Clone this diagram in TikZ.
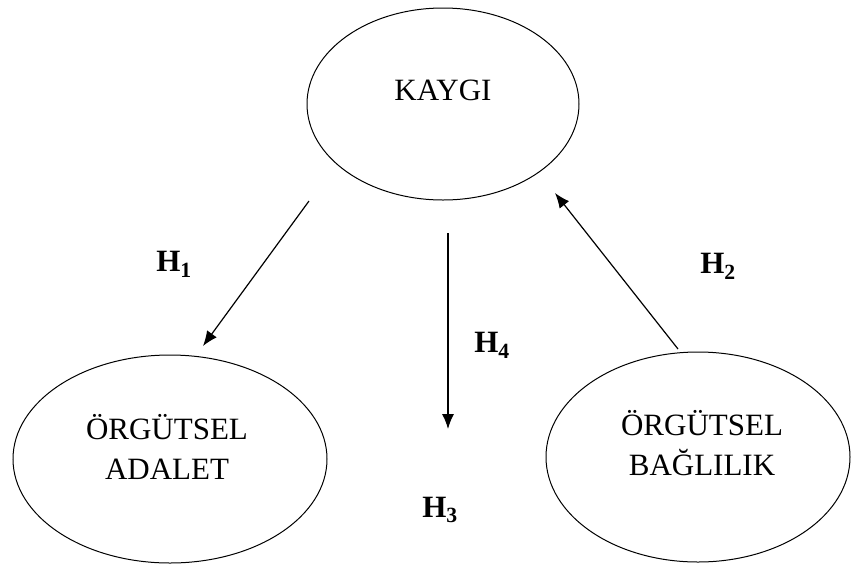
\documentclass[tikz,border=0pt]{standalone}
\usepackage{fontspec}
\setmainfont{Liberation Serif}
\usetikzlibrary{positioning}
\usetikzlibrary{arrows.meta}
\usetikzlibrary{shapes}
\tikzset{
        % Construct ellipses
        construct/.style={ellipse, draw=black, line width=1pt, inner sep=0pt},
        % Construct names
        construct_text/.style={align=center, inner sep=0pt, font=\fontsize{31}{40}\selectfont},
        % Hypothesis labels
        hyp/.style={inner sep=0pt, font=\fontsize{31}{36}\selectfont\bfseries},
        % Hypothesis arrows
        hyp_arrow/.style={-{Latex[length=15pt,width=12pt]}, line width=1.2pt}
}

\begin{document}
\begin{tikzpicture}[x=1pt, y=-1pt]
    \useasboundingbox (0,0) rectangle (851,568);
    % Constructs
    \node[construct, minimum width=272pt, minimum height=192pt] (kaygi) at (443,104) {};
    \node[construct, minimum width=314pt, minimum height=208pt] (adalet) at (170,459) {};
    \node[construct, minimum width=304pt, minimum height=210pt] (baglilik) at (698,457) {};
    \node[construct_text] (kaygi_text) at (443,90) {KAYGI};
    \node[construct_text] (adalet_text) at (167,447) {ÖRGÜTSEL\\ADALET};
    \node[construct_text] (baglilik_text) at (702,443) {ÖRGÜTSEL\\BAĞLILIK};
    % Arrow ends
    \coordinate (h1_start) at (309,201);
    \coordinate (h1_end) at (203,346);
    \coordinate (h4_start) at (448,233);
    \coordinate (h4_end) at (448,429);
    \coordinate (h2_start) at (678,349);
    \coordinate (h2_end) at (555,193);
    \draw[hyp_arrow] (h1_start) -- (h1_end);
    \draw[hyp_arrow] (h4_start) -- (h4_end);
    \draw[hyp_arrow] (h2_start) -- (h2_end);
    % Hypotheses
    \node[hyp] (h1) at (174,264) {H\textsubscript{1}};
    \node[hyp] (h2) at (718,266) {H\textsubscript{2}};
    \node[hyp] (h4) at (492,345) {H\textsubscript{4}};
    \node[hyp] (h3) at (440,510) {H\textsubscript{3}};
\end{tikzpicture}
\end{document}
